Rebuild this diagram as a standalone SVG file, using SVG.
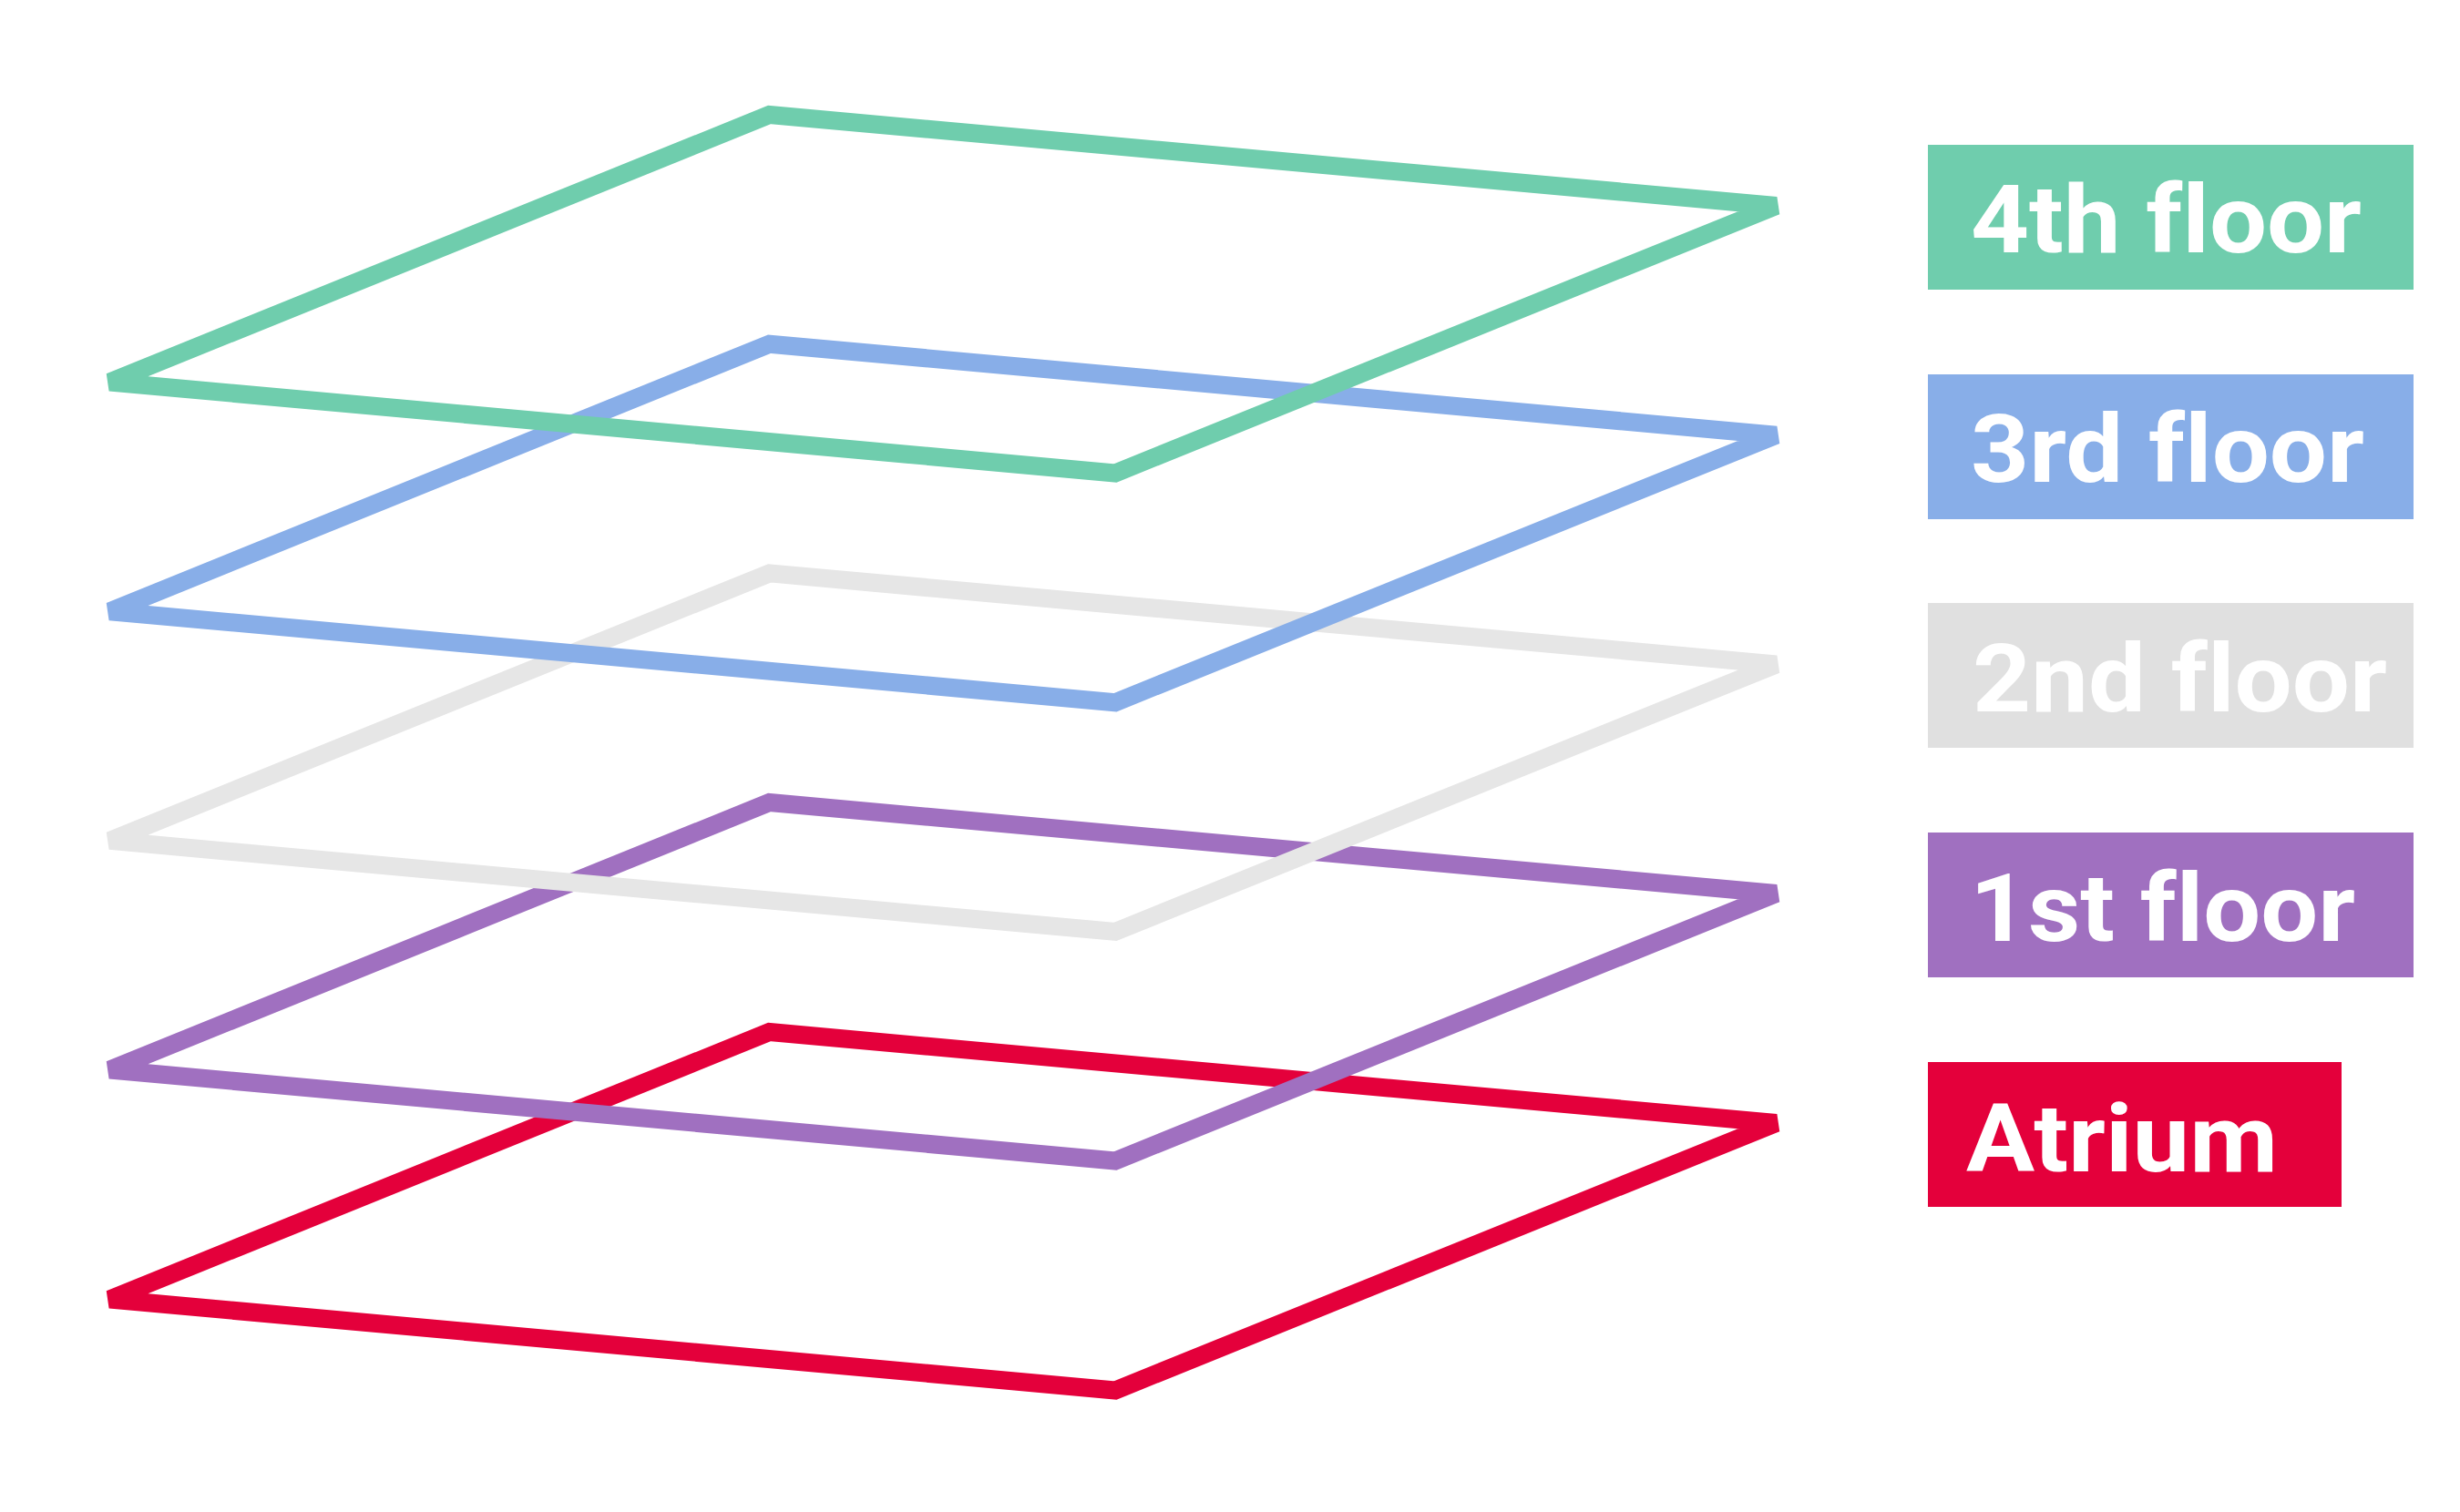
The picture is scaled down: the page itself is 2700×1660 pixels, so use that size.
<svg xmlns="http://www.w3.org/2000/svg" width="2700" height="1660" viewBox="0 0 2700 1660">
<style>
.floor{fill:none;stroke-width:20;stroke-linejoin:miter;stroke-miterlimit:4}
.lbl{font-family:Roboto,"Liberation Sans",sans-serif;font-weight:700;font-size:104px;fill:#ffffff;font-variant-ligatures:none;font-feature-settings:"liga" 0}
</style>
<defs>
<polygon id="plate" points="120.5,419.5 844.5,126 1949.5,226 1224,519.5"/>
</defs>
<rect width="2700" height="1660" fill="#ffffff"/>
<g id="floors">
<g id="atrium-plate"><use href="#plate" class="floor" stroke="#E4003B" transform="translate(0,1007)"/></g>
<g id="floor1-plate"><use href="#plate" class="floor" stroke="#A070C0" transform="translate(0,755)"/></g>
<g id="floor2-plate"><use href="#plate" class="floor" stroke="#E6E6E6" transform="translate(0,503.4)"/></g>
<g id="floor3-plate"><use href="#plate" class="floor" stroke="#88AEE8" transform="translate(0,251.7)"/></g>
<g id="floor4-plate"><use href="#plate" class="floor" stroke="#6FCDAD"/></g>
</g>
<g id="legend">
<g id="label-4th"><rect x="2116" y="159" width="533" height="159" fill="#6FCDAD"/><text class="lbl" x="2163" y="277" textLength="429" lengthAdjust="spacingAndGlyphs">4th floor</text></g>
<g id="label-3rd"><rect x="2116" y="411" width="533" height="159" fill="#88AEE8"/><text class="lbl" x="2163" y="529" textLength="432" lengthAdjust="spacingAndGlyphs">3rd floor</text></g>
<g id="label-2nd"><rect x="2116" y="662" width="533" height="159" fill="#E0E0E0"/><text class="lbl" x="2165" y="781" textLength="455" lengthAdjust="spacingAndGlyphs">2nd floor</text></g>
<g id="label-1st"><rect x="2116" y="914" width="533" height="159" fill="#A070C0"/><text class="lbl" x="2162" y="1033" textLength="423" lengthAdjust="spacingAndGlyphs">1st floor</text></g>
<g id="label-atrium"><rect x="2116" y="1166" width="454" height="159" fill="#E4003B"/><text class="lbl" x="2158" y="1286" textLength="342" lengthAdjust="spacingAndGlyphs">Atrium</text></g>
</g>
</svg>
